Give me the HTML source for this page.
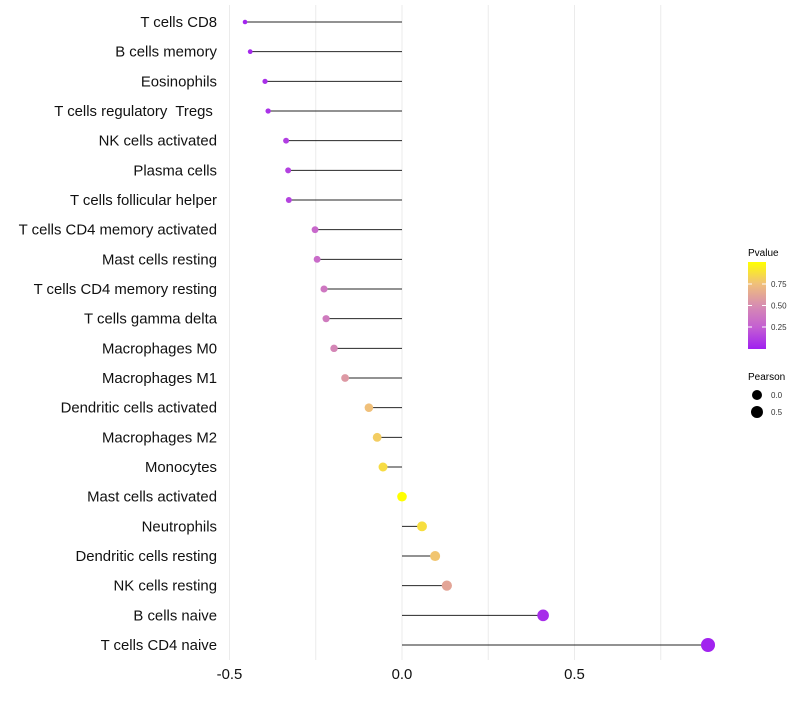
<!DOCTYPE html>
<html><head><meta charset="utf-8"><style>
body{margin:0;background:#fff;font-family:"Liberation Sans",sans-serif}
svg text{font-family:"Liberation Sans",sans-serif;white-space:pre}
</style></head><body>
<svg id="chart" width="800" height="700" xmlns="http://www.w3.org/2000/svg">
<g id="grid"></g>
<g id="marks"></g>
<g id="ylab"></g>
<g id="xlab"></g>
<g id="legend">
<defs><linearGradient id="pg" x1="0" y1="1" x2="0" y2="0">
<stop offset="0" stop-color="#a020f0"/><stop offset="0.25" stop-color="#c45fd2"/><stop offset="0.5" stop-color="#d78db1"/><stop offset="0.75" stop-color="#f0c07a"/><stop offset="1" stop-color="#ffff00"/></linearGradient></defs>
<text x="748" y="256" font-size="10">Pvalue</text>
<rect x="748" y="262" width="18" height="87" fill="url(#pg)"/>
<g stroke="#fff" stroke-width="1"><line x1="748" x2="752" y1="284" y2="284"/><line x1="762" x2="766" y1="284" y2="284"/><line x1="748" x2="752" y1="305.5" y2="305.5"/><line x1="762" x2="766" y1="305.5" y2="305.5"/><line x1="748" x2="752" y1="327" y2="327"/><line x1="762" x2="766" y1="327" y2="327"/></g>
<text x="771" y="287" font-size="8" fill="#333">0.75</text>
<text x="771" y="308.5" font-size="8" fill="#333">0.50</text>
<text x="771" y="330" font-size="8" fill="#333">0.25</text>
<text x="748" y="380" font-size="10">Pearson</text>
<circle cx="757" cy="395" r="5" fill="#000"/>
<circle cx="757" cy="412" r="6" fill="#000"/>
<text x="771" y="398" font-size="8" fill="#333">0.0</text>
<text x="771" y="415" font-size="8" fill="#333">0.5</text>
</g>
</svg>
<script>
const categories=["T cells CD8","B cells memory","Eosinophils","T cells regulatory  Tregs ","NK cells activated","Plasma cells","T cells follicular helper","T cells CD4 memory activated","Mast cells resting","T cells CD4 memory resting","T cells gamma delta","Macrophages M0","Macrophages M1","Dendritic cells activated","Macrophages M2","Monocytes","Mast cells activated","Neutrophils","Dendritic cells resting","NK cells resting","B cells naive","T cells CD4 naive"];
const pearson=[-0.455,-0.44,-0.397,-0.388,-0.336,-0.33,-0.328,-0.252,-0.246,-0.226,-0.22,-0.197,-0.165,-0.096,-0.072,-0.055,0,0.058,0.096,0.13,0.409,0.887];
const pvalue=[0.02,0.03,0.06,0.07,0.12,0.13,0.14,0.3,0.32,0.38,0.4,0.46,0.56,0.75,0.8,0.86,1.0,0.87,0.77,0.62,0.05,0.01];
const xTicks=[-0.5,0,0.5];
const xTickLabels=["-0.5","0.0","0.5"];
const xGrid=[-0.5,-0.25,0,0.25,0.5,0.75];
const NS="http://www.w3.org/2000/svg";
const X=v=>402+v*345;
const Y=i=>22+i*29.667;
const R=v=>v<0?Math.max(2,4.8+v*5.5):4.8+v*2.5;
const stops=[[0,[160,32,240]],[0.25,[196,95,210]],[0.5,[215,141,177]],[0.75,[240,192,122]],[1,[255,255,0]]];
function col(p){for(let k=1;k<stops.length;k++){if(p<=stops[k][0]||k==stops.length-1){const a=stops[k-1],b=stops[k];const t=Math.min(1,Math.max(0,(p-a[0])/(b[0]-a[0])));return 'rgb('+a[1].map((c,j)=>Math.round(c+(b[1][j]-c)*t)).join(',')+')';}}}
function mk(t,at,parent){const e=document.createElementNS(NS,t);for(const k in at)e.setAttribute(k,at[k]);parent.appendChild(e);return e;}
const grid=document.getElementById('grid'),marks=document.getElementById('marks'),ylab=document.getElementById('ylab'),xlab=document.getElementById('xlab');
xGrid.forEach(v=>{const l=mk('line',{x1:X(v),x2:X(v),y1:5,y2:660,stroke:'#ebebeb','stroke-width':1},grid);

});
categories.forEach((c,i)=>{
const s=mk('line',{x1:X(0),x2:X(pearson[i]),y1:Y(i),y2:Y(i),stroke:'#000','stroke-width':1,'stroke-opacity':0.85},marks);


const d=mk('circle',{cx:X(pearson[i]),cy:Y(i),r:R(pearson[i]),fill:col(pvalue[i])},marks);


const t=mk('text',{x:217,y:Y(i)+5,'text-anchor':'end','font-size':14.9,fill:'#111'},ylab);t.textContent=c;


});
xTicks.forEach((v,i)=>{const t=mk('text',{x:X(v),y:679,'text-anchor':'middle','font-size':14.9,fill:'#111'},xlab);t.textContent=xTickLabels[i];

});
</script>
</body></html>
